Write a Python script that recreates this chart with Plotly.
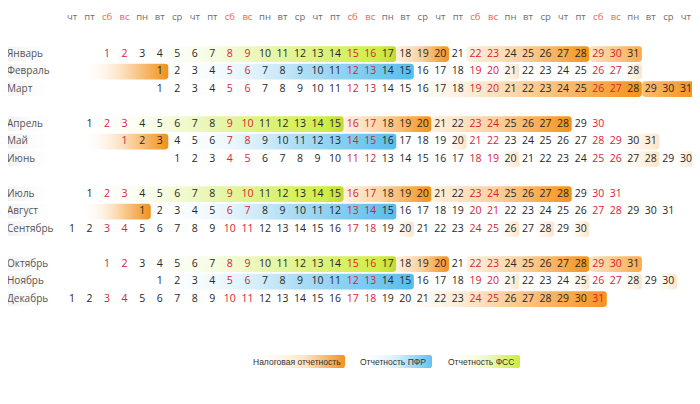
import math
import plotly.graph_objects as go

# ---------------- data ----------------
months = ["Январь", "Февраль", "Март", "Апрель", "Май", "Июнь",
          "Июль", "Август", "Сентябрь", "Октябрь", "Ноябрь", "Декабрь"]
first_col = [2, 5, 5, 1, 3, 6, 1, 4, 0, 2, 5, 0]      # column of day 1 (2011)
n_days = [31, 28, 31, 30, 31, 30, 31, 31, 30, 31, 30, 31]
weekday_names = ["чт", "пт", "сб", "вс", "пн", "вт", "ср"]
weekend_names = ["сб", "вс"]
n_cols = 36

# (month index, first day, last day, style)
tax_bands = [
    (0, 18, 20, "main"), (0, 22, 28, "main"), (0, 29, 31, "end"),
    (1, -3, 1, "lead"), (1, 21, 21, "pale"), (1, 28, 28, "pale"),
    (2, 14, 28, "fade"), (2, 29, 31, "end2"),
    (3, 16, 20, "main"), (3, 21, 28, "main"),
    (4, -1, 3, "lead"), (4, 20, 20, "pale"), (4, 30, 31, "pale"),
    (5, 20, 20, "pale"), (5, 27, 28, "pale"), (5, 30, 30, "pale"),
    (6, 16, 20, "main"), (6, 21, 28, "main"),
    (7, -2, 1, "lead"),
    (8, 20, 20, "pale"), (8, 26, 26, "pale"), (8, 28, 28, "pale"), (8, 30, 30, "pale"),
    (9, 18, 20, "main"), (9, 22, 28, "main"), (9, 29, 31, "end"),
    (10, 21, 21, "pale"), (10, 25, 25, "pale"), (10, 28, 28, "pale"), (10, 30, 30, "pale"),
    (11, 19, 31, "fade"),
]
pfr_bands = [(1, 2, 15, "blue"), (4, 4, 16, "blue"), (7, 2, 15, "blue"), (10, 1, 15, "blue")]
fss_bands = [(0, 3, 17, "green"), (3, 1, 15, "green"), (6, 1, 15, "green"), (9, 3, 17, "green")]

legend_labels = ["Налоговая отчетность", "Отчетность ПФР", "Отчетность ФСС"]
legend_styles = ["legtax", "legblue", "leggreen"]

# ---------------- styling ----------------
ORANGE = "rgb(245,146,28)"
styles = {
    "main": [[0, "rgba(254,238,218,0.9)"], [0.45, "rgb(252,210,160)"], [1, ORANGE]],
    "fade": [[0, "rgba(255,255,255,0)"], [0.5, "rgb(252,216,172)"], [1, ORANGE]],
    "end": [[0, "rgb(253,228,196)"], [1, "rgb(248,170,75)"]],
    "end2": [[0, "rgb(250,190,115)"], [1, ORANGE]],
    "pale": [[0, "rgba(255,250,244,0.6)"], [1, "rgb(253,228,198)"]],
    "lead": [[0, "rgba(255,255,255,0)"], [0.55, "rgb(251,212,165)"], [1, "rgb(240,145,25)"]],
    "blue": [[0, "rgba(255,255,255,0)"], [0.55, "rgb(175,222,245)"], [1, "rgb(88,188,236)"]],
    "green": [[0, "rgba(255,255,255,0)"], [0.5, "rgb(232,246,175)"], [0.93, "rgb(208,238,70)"], [1, "rgb(198,216,50)"]],
    "label": [[0, "rgb(238,238,238)"], [1, "rgba(255,255,255,0)"]],
    "legtax": [[0, "rgba(255,255,255,0)"], [0.6, "rgb(253,226,190)"], [1, ORANGE]],
    "legblue": [[0, "rgba(255,255,255,0)"], [0.55, "rgb(215,238,250)"], [1, "rgb(100,195,238)"]],
    "leggreen": [[0, "rgba(255,255,255,0)"], [0.55, "rgb(240,250,200)"], [1, "rgb(205,236,60)"]],
}

W, H = 700, 404
OFF = 8                  # page body margin in the browser
X0, DX = 72.0, 17.54     # screen pixel x of column 0, column step
Y0, DY = 54.0, 17.5      # screen pixel y of slot 0, slot step


def px2x(p):
    return (p - X0) / DX


def py2y(p):
    return (p - Y0) / DY


def slot(m):
    return (m // 3) * 4 + m % 3


def rrect(x0, x1, yc, hh, rpx=3.0):
    rx, ry = rpx / DX, rpx / DY
    pts = []
    corners = [(x1 - rx, yc - hh + ry, -90, 0), (x1 - rx, yc + hh - ry, 0, 90),
               (x0 + rx, yc + hh - ry, 90, 180), (x0 + rx, yc - hh + ry, 180, 270)]
    for cx, cy, a0, a1 in corners:
        for k in range(6):
            a = math.radians(a0 + (a1 - a0) * k / 5)
            pts.append((cx + rx * math.cos(a), cy + ry * math.sin(a)))
    pts.append(pts[0])
    return [p[0] for p in pts], [p[1] for p in pts]


fig = go.Figure()


def add_fill(x0, x1, yc, hh, style, rpx=3.0):
    xs, ys = rrect(x0, x1, yc, hh, rpx)
    fig.add_trace(go.Scatter(
        x=xs, y=ys, mode="lines", fill="toself", line=dict(width=0),
        fillgradient=dict(type="horizontal", colorscale=styles[style], start=x0, stop=x1),
        hoverinfo="skip", showlegend=False))


HALF = 0.45
CELL = 0.49

# month label bands
for m in range(12):
    add_fill(px2x(0), px2x(60), slot(m), 0.43, "label", 1.0)

# bands
for bands in (fss_bands, pfr_bands, tax_bands):
    for m, d0, d1, st in bands:
        c0 = first_col[m] + d0 - 1
        c1 = first_col[m] + d1 - 1
        add_fill(c0 - CELL, c1 + CELL, slot(m), HALF, st)

# header weekdays
hx = list(range(n_cols))
hlab = [weekday_names[c % 7] for c in hx]
hcol = ["rgb(240,100,80)" if l in weekend_names else "rgb(110,110,110)" for l in hlab]
fig.add_trace(go.Scatter(x=hx, y=[py2y(18)] * n_cols, mode="text", text=hlab,
                         textfont=dict(family="Open Sans", size=9.5, color=hcol),
                         hoverinfo="skip", showlegend=False))

# month names
fig.add_trace(go.Scatter(x=[px2x(7)] * 12, y=[slot(m) for m in range(12)], mode="text",
                         text=months, textposition="middle right",
                         textfont=dict(family="Open Sans", size=10, color="rgb(85,85,85)"),
                         hoverinfo="skip", showlegend=False))

# day numbers
dx, dy, dt, dc = [], [], [], []
for m in range(12):
    for d in range(1, n_days[m] + 1):
        c = first_col[m] + d - 1
        dx.append(c)
        dy.append(slot(m))
        dt.append(str(d))
        dc.append("rgb(215,35,55)" if weekday_names[c % 7] in weekend_names else "rgb(40,40,40)")
fig.add_trace(go.Scatter(x=dx, y=dy, mode="text", text=dt,
                         textfont=dict(family="Open Sans", size=10.5, color=dc),
                         hoverinfo="skip", showlegend=False))

# legend
leg_px = [(248, 345), (355, 432), (443, 520)]
leg_y = py2y(361.5)
for (a, b), lab, st in zip(leg_px, legend_labels, legend_styles):
    add_fill(px2x(a), px2x(b), leg_y, 6.5 / DY, st, 2.0)
    fig.add_annotation(x=px2x(a + 3), y=leg_y, text=lab, showarrow=False, xanchor="left",
                       yanchor="middle", font=dict(family="Liberation Sans", size=8.5, color="rgb(50,50,50)"))

fig.update_layout(
    width=W, height=H, margin=dict(l=0, r=0, t=0, b=0),
    paper_bgcolor="white", plot_bgcolor="white",
    xaxis=dict(range=[px2x(OFF), px2x(W + OFF)], visible=False, fixedrange=True),
    yaxis=dict(range=[py2y(H + OFF), py2y(OFF)], visible=False, fixedrange=True),
    showlegend=False,
)
fig.write_html("out.html")
